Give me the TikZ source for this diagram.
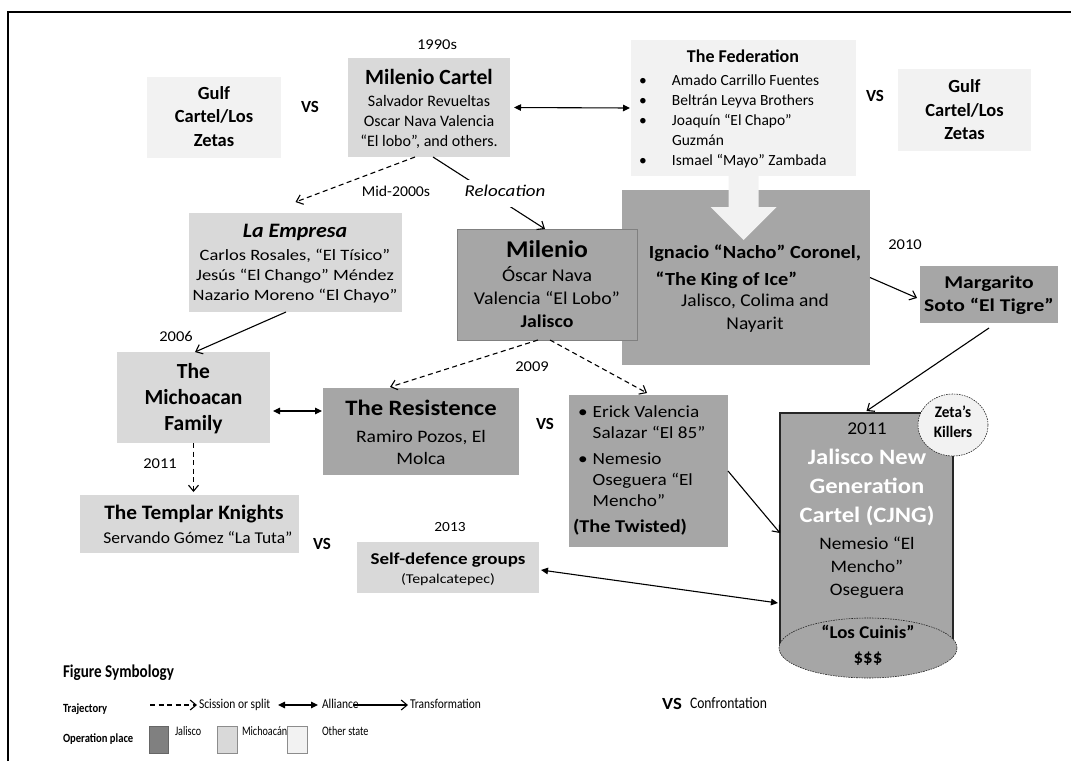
\documentclass[tikz,border=0pt]{standalone}
\usepackage{fontspec}
\setmainfont{Carlito}
\usepackage{graphicx}
\usetikzlibrary{arrows.meta,calc,shapes.geometric}
\definecolor{jal}{HTML}{A6A6A6}
\definecolor{mich}{HTML}{D9D9D9}
\definecolor{oth}{HTML}{F2F2F2}
\definecolor{jalsw}{HTML}{808080}
% [col]{xscale}{size}{baselineskip}{style}{lines}
\newcommand\tblk[6][c]{\scalebox{#2}[1]{\fontsize{#3}{#4}\selectfont#5\begin{tabular}{@{}#1@{}}#6\end{tabular}}}
\tikzset{
  box/.style={rectangle, inner sep=0pt, outer sep=0pt},
  txt/.style={inner sep=0pt, outer sep=0pt},
  trans/.style={-{Straight Barb[length=6pt,width=10pt]}, line width=1.1pt},
  split/.style={trans, dash pattern=on 5pt off 3.5pt},
  ally/.style={{Triangle[length=7pt,width=6.5pt]}-{Triangle[length=7pt,width=6.5pt]}, line width=1.1pt},
  fine/.style={dash pattern=on 1.6pt off 1pt, line width=0.6pt, draw=black!85}
}
\begin{document}
\begin{tikzpicture}[x=1pt,y=-1pt]
\useasboundingbox (0,0) rectangle (1071,761);
\draw[line width=1.8pt] (8,761) -- (8,12) -- (1071,12);

% ---------- boxes
\node[box, fill=oth, minimum width=134pt, minimum height=81pt] (gulfL) at (214,117.5) {};
\node[box, fill=mich, minimum width=162pt, minimum height=99pt] (mc) at (429,107.5) {};
\node[box, fill=oth, minimum width=225pt, minimum height=136pt] (fed) at (743.5,108) {};
\node[box, fill=oth, minimum width=133pt, minimum height=82pt] (gulfR) at (964.5,110) {};
\node[box, fill=jal, minimum width=248pt, minimum height=175pt] (nacho) at (746,277.5) {};
\fill[oth] ($(fed.south)+(-15,-1)$) -- ($(fed.south)+(15,-1)$) -- ($(fed.south)+(15,31)$)
  -- ($(fed.south)+(33,31)$) -- ($(fed.south)+(0,64)$) -- ($(fed.south)+(-33,31)$)
  -- ($(fed.south)+(-15,31)$) -- cycle;
\node[box, fill=jal, draw=jalsw, line width=0.8pt, minimum width=180pt, minimum height=111pt] (milenio) at (547,284.5) {};
\node[box, fill=jal, minimum width=138pt, minimum height=57pt] (marg) at (989,294.5) {};
\node[box, fill=mich, minimum width=213pt, minimum height=99pt] (emp) at (295.5,262.5) {};
\node[box, fill=mich, minimum width=153pt, minimum height=91pt] (mf) at (193.5,397.5) {};
\node[box, fill=jal, minimum width=196pt, minimum height=87pt] (res) at (421,431.5) {};
\node[box, fill=jal, minimum width=159pt, minimum height=152pt] (tw) at (648.5,471) {};
\node[box, fill=mich, minimum width=219pt, minimum height=58pt] (tk) at (189.5,524) {};
\node[box, fill=mich, minimum width=182pt, minimum height=51pt] (sd) at (448,567.5) {};
\node[box, fill=jal, draw=black!85, line width=1.2pt, minimum width=173pt, minimum height=235pt] (cjng) at (866.5,530.5) {};
\node[ellipse, fill=jal, fine, inner sep=0pt, minimum width=178pt, minimum height=60pt] (cuinis) at (868,648) {};
\node[ellipse, fill=oth, fine, inner sep=0pt, minimum width=70pt, minimum height=62pt] (zeta) at (953,425) {};

% ---------- texts
\node[txt] (gulfLt) at (214,118) {\tblk{1}{18.5}{23.5}{\bfseries}{Gulf\\Cartel/Los\\Zetas}};
\node[txt] (vs1) at (310,108) {\tblk{1}{17}{20}{\bfseries}{VS}};
\node[txt] (y1990) at (437,46) {\tblk{1.1}{15}{18}{}{1990s}};
\node[txt] (mct) at (429,79) {\tblk{1}{21.7}{26}{\bfseries}{Milenio Cartel}};
\node[txt] (mcb) at (429,122) {\tblk{1}{16}{20}{}{Salvador Revueltas\\Oscar Nava Valencia\\“El lobo”, and others.}};
\node[txt] (fedt) at (743,58) {\tblk{1}{18}{22}{\bfseries}{The Federation}};
\node[txt, anchor=west] (fedl) at (639,121) {\tblk[l]{1}{15.5}{20}{}{\makebox[33pt][l]{•}Amado Carrillo Fuentes\\\makebox[33pt][l]{•}Beltrán Leyva Brothers\\\makebox[33pt][l]{•}Joaquín “El Chapo”\\\hspace*{33pt}Guzmán\\\makebox[33pt][l]{•}Ismael “Mayo” Zambada}};
\node[txt] (vs2) at (875,97) {\tblk{1}{17}{20}{\bfseries}{VS}};
\node[txt] (gulfRt) at (964.5,111.5) {\tblk{1}{18.5}{23.5}{\bfseries}{Gulf\\Cartel/Los\\Zetas}};
\node[txt] (nachot) at (755,266.5) {\tblk{1.1}{18.5}{27}{\bfseries}{Ignacio “Nacho” Coronel,\\\hbox{“The King of Ice”\kern52pt}}};
\node[txt] (nachob) at (755,313.5) {\tblk{1.08}{18}{23}{}{Jalisco, Colima and\\Nayarit}};
\node[txt] (y2010) at (905,246) {\tblk{1.1}{15}{18}{}{2010}};
\node[txt] (margt) at (989,295.5) {\tblk{1.2}{18}{23}{\bfseries}{Margarito\\Soto “El Tigre”}};
\node[txt] (y2011b) at (867,430) {\tblk{1.08}{18}{21}{}{2011}};
\node[txt, text=white] (cjngt) at (867,488) {\tblk{1.12}{22}{29}{\bfseries}{Jalisco New\\Generation\\Cartel (CJNG)}};
\node[txt] (cjngb) at (867,568) {\tblk{1.1}{17.5}{23}{}{Nemesio “El\\Mencho”\\Oseguera}};
\node[txt] (cuinist) at (868,645.5) {\tblk{1.05}{18}{25}{\bfseries}{“Los Cuinis”\\\$\$\$}};
\node[txt] (zetat) at (953,423) {\tblk{0.95}{16}{20}{\bfseries}{Zeta’s\\Killers}};
\node[txt] (empt) at (295,233) {\tblk{1.07}{20.5}{24}{\bfseries\itshape}{La Empresa}};
\node[txt] (empb) at (295,276.5) {\tblk{1.17}{15.8}{19.7}{}{Carlos Rosales, “El Tísico”\\Jesús “El Chango” Méndez\\Nazario Moreno “El Chayo”}};
\node[txt] (milt) at (547,252) {\tblk{1.07}{24}{28}{\bfseries}{Milenio}};
\node[txt] (milb) at (547,300) {\tblk{1.1}{18}{23}{}{Óscar Nava\\Valencia “El Lobo”\\\bfseries Jalisco}};
\node[txt] (mft) at (193.5,399) {\tblk{1}{21.5}{26}{\bfseries}{The\\Michoacan\\Family}};
\node[txt] (rest) at (421,410) {\tblk{1.12}{22}{26}{\bfseries}{The Resistence}};
\node[txt] (resb) at (421,449) {\tblk{1.12}{17.5}{22}{}{Ramiro Pozos, El\\Molca}};
\node[txt] (vs3) at (545,425) {\tblk{1}{17}{20}{\bfseries}{VS}};
\node[txt, anchor=west] (twl) at (578,458) {\tblk[l]{1.13}{17}{21}{}{\makebox[13pt][l]{•}Erick Valencia\\\hspace*{13pt}Salazar “El 85”\\[5pt]\makebox[13pt][l]{•}Nemesio\\\hspace*{13pt}Oseguera “El\\\hspace*{13pt}Mencho”}};
\node[txt] (twt) at (630,528) {\tblk{1.13}{18}{22}{\bfseries}{(The Twisted)}};
\node[txt] (tkt) at (194,515) {\tblk{1.04}{20.5}{24}{\bfseries}{The Templar Knights}};
\node[txt] (tkb) at (198,539) {\tblk{1.06}{16.5}{20}{}{Servando Gómez “La Tuta”}};
\node[txt] (vs4) at (322,545) {\tblk{1}{17}{20}{\bfseries}{VS}};
\node[txt] (sdt) at (448,560) {\tblk{1.15}{16.5}{20}{\bfseries}{Self-defence groups}};
\node[txt] (sdb) at (448,580) {\tblk{1.18}{13.5}{16}{}{(Tepalcatepec)}};
\node[txt] (y2006) at (176,338) {\tblk{1.1}{15}{18}{}{2006}};
\node[txt] (y2011a) at (160,465) {\tblk{1.1}{15}{18}{}{2011}};
\node[txt] (y2009) at (532,368) {\tblk{1.1}{15}{18}{}{2009}};
\node[txt] (y2013) at (450,528) {\tblk{1.1}{14}{17}{}{2013}};
\node[txt] (ymid) at (396,193) {\tblk{1.05}{15}{18}{}{Mid-2000s}};

% ---------- connectors
\draw[ally, shorten <=4pt, shorten >=1pt] (mc.east) -- (fed.west);
\draw[split] ([xshift=-14pt]mc.south) -- ([yshift=11pt]emp.north);
\draw[trans] ([xshift=4pt]mc.south) -- ([xshift=-2pt]milenio.north);
\node[txt, fill=white, inner xsep=3pt, inner ysep=4pt] (reloc) at (505,193) {\tblk{1.15}{16.5}{19}{\itshape}{Relocation}};
\draw[split] ([xshift=-9pt]milenio.south) -- ([xshift=-31pt,yshift=1pt]res.north);
\draw[split] ([xshift=3pt]milenio.south) -- ([xshift=-1.5pt,yshift=2pt]tw.north);
\draw[trans] ([xshift=-9.5pt]emp.south) -- ([xshift=1.5pt]mf.north);
\draw[ally, shorten <=3pt, shorten >=1pt] ([yshift=-13.5pt]mf.east) -- ([yshift=20.5pt]res.west);
\draw[split] (mf.south) -- ([xshift=4pt,yshift=3pt]tk.north);
\draw[trans] (nacho.east) -- ([xshift=-3pt,yshift=-3.5pt]marg.west);
\draw[trans] ([yshift=-5pt]marg.south) -- ([yshift=2pt]cjng.north);
\draw[trans] (tw.east) -- ([yshift=-2.5pt]cjng.west);
\draw[ally] ([xshift=2pt,yshift=-2.5pt]sd.east) -- ([xshift=-2pt,yshift=-72.5pt]cjng.west);

% ---------- legend
\node[txt, anchor=west] (figsym) at (63,673) {\tblk{0.84}{18}{20}{\bfseries}{Figure Symbology}};
\node[txt, anchor=west] (traj) at (63,710) {\tblk{0.85}{12.5}{14}{\bfseries}{Trajectory}};
\coordinate (l1a) at (150,705); \coordinate (l1b) at (197,705);
\draw[split] (l1a) -- (l1b);
\node[txt, anchor=west] (lsplit) at (199,705) {\tblk{0.85}{13.5}{15}{}{Scission or split}};
\coordinate (l2a) at (278,705); \coordinate (l2b) at (318,705);
\draw[ally] (l2a) -- (l2b);
\node[txt, anchor=west] (lally) at (322,705) {\tblk{0.85}{13.5}{15}{}{Alliance}};
\coordinate (l3a) at (353,705); \coordinate (l3b) at (408,705);
\draw[trans] (l3a) -- (l3b);
\node[txt, anchor=west] (ltrans) at (410,705) {\tblk{0.85}{13.5}{15}{}{Transformation}};
\node[txt] (lvs) at (672,705) {\tblk{1.1}{17}{20}{\bfseries}{VS}};
\node[txt, anchor=west] (lconf) at (690,705) {\tblk{0.85}{16}{18}{}{Confrontation}};
\node[txt, anchor=west] (oper) at (63,740) {\tblk{0.85}{12.5}{14}{\bfseries}{Operation place}};
\node[box, fill=jalsw, draw=black!60, line width=0.6pt, minimum width=19pt, minimum height=27pt] (swj) at (158.5,739.5) {};
\node[txt, anchor=west] (lj) at (175,732) {\tblk{0.78}{13}{15}{}{Jalisco}};
\node[box, fill=mich, draw=black!45, line width=0.6pt, minimum width=20pt, minimum height=27pt] (swm) at (227,739.5) {};
\node[txt, anchor=west] (lm) at (242,732) {\tblk{0.78}{13}{15}{}{Michoacán}};
\node[box, fill=oth, draw=black!45, line width=0.6pt, minimum width=20pt, minimum height=27pt] (swo) at (297,739.5) {};
\node[txt, anchor=west] (lo) at (322,732) {\tblk{0.78}{13}{15}{}{Other state}};
\end{tikzpicture}
\end{document}
